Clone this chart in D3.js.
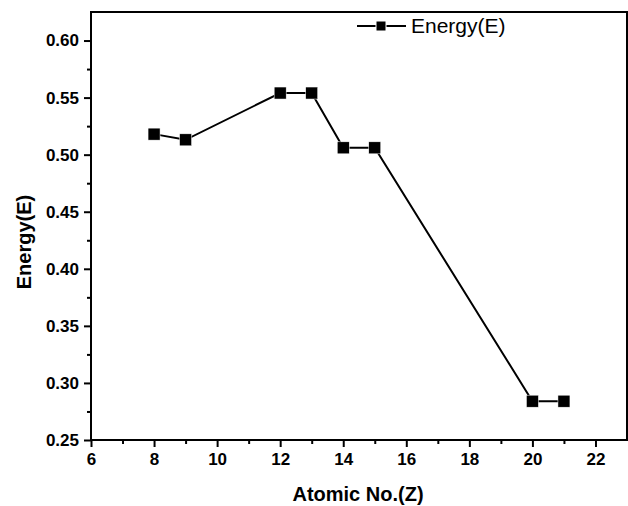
<!DOCTYPE html>
<html><head><meta charset="utf-8">
<script src="https://cdn.jsdelivr.net/npm/d3@7"></script>
<style>body{margin:0;background:#fff}svg{display:block}</style>
</head><body>
<script>
const atomicNo = [8, 9, 12, 13, 14, 15, 20, 21];
const energy = [0.518, 0.513, 0.554, 0.554, 0.506, 0.506, 0.284, 0.284];
const xTicks = [6, 8, 10, 12, 14, 16, 18, 20, 22];
const yTicks = [0.25, 0.30, 0.35, 0.40, 0.45, 0.50, 0.55, 0.60];
const seriesName = "Energy(E)";

const W = 628, H = 506;
const m = {left: 91, right: 627, top: 12, bottom: 440};
const svg = d3.select("body").append("svg").attr("width", W).attr("height", H);
const x = d3.scaleLinear().domain([6, 23]).range([m.left, m.right]);
const y = d3.scaleLinear().domain([0.25, 0.625]).range([m.bottom, m.top]);
const font = "'Liberation Sans', Arial, sans-serif";

// frame
svg.append("rect").attr("x", m.left).attr("y", m.top).attr("width", m.right - m.left).attr("height", m.bottom - m.top)
  .attr("fill", "none").attr("stroke", "#000").attr("stroke-width", 2);

// x axis
const xa = svg.append("g").attr("transform", `translate(0,${m.bottom})`)
  .call(d3.axisBottom(x).tickValues(xTicks).tickFormat(d3.format("d")).tickSize(7).tickPadding(6));
xa.append("g").call(d3.axisBottom(x).tickValues(d3.range(7, 23, 2)).tickFormat("").tickSize(4));
xa.selectAll(".domain").remove();
xa.selectAll("line").attr("stroke", "#000").attr("stroke-width", 2);
xa.selectAll("text").attr("font-family", font).attr("font-weight", "bold").attr("font-size", 17).attr("fill", "#000");

// y axis
const ya = svg.append("g").attr("transform", `translate(${m.left},0)`)
  .call(d3.axisLeft(y).tickValues(yTicks).tickFormat(d3.format(".2f")).tickSize(7).tickPadding(5));
ya.append("g").call(d3.axisLeft(y).tickValues(d3.range(0.275, 0.62, 0.05)).tickFormat("").tickSize(4));
ya.selectAll(".domain").remove();
ya.selectAll("line").attr("stroke", "#000").attr("stroke-width", 2);
ya.selectAll("text").attr("font-family", font).attr("font-weight", "bold").attr("font-size", 17).attr("fill", "#000");

// titles
svg.append("text").attr("x", 358).attr("y", 501).attr("text-anchor", "middle")
  .attr("font-family", font).attr("font-weight", "bold").attr("font-size", 20).text("Atomic No.(Z)");
svg.append("text").attr("transform", `translate(31,${(m.top + m.bottom) / 2 + 16}) rotate(-90)`).attr("text-anchor", "middle")
  .attr("font-family", font).attr("font-weight", "bold").attr("font-size", 20).text("Energy(E)");

// line
const data = atomicNo.map((d, i) => ({x: d, y: energy[i]}));
svg.append("path").datum(data).attr("fill", "none").attr("stroke", "#000").attr("stroke-width", 2)
  .attr("d", d3.line().x(d => x(d.x)).y(d => y(d.y)));
const s = 12;
svg.selectAll("rect.pt").data(data).join("rect").attr("class", "pt")
  .attr("x", d => x(d.x) - s / 2).attr("y", d => y(d.y) - s / 2).attr("width", s).attr("height", s)
  .attr("fill", "#000").attr("stroke", "#fff").attr("stroke-width", 0.5);

// legend
const lg = svg.append("g");
lg.append("line").attr("x1", 357).attr("x2", 406).attr("y1", 26).attr("y2", 26).attr("stroke", "#000").attr("stroke-width", 2);
lg.append("rect").attr("x", 381 - 5).attr("y", 26 - 5).attr("width", 10).attr("height", 10).attr("fill", "#000").attr("stroke", "#fff").attr("stroke-width", 1);
lg.append("text").attr("x", 411).attr("y", 33).attr("font-family", font).attr("font-size", 21).text(seriesName);
</script>
</body></html>
